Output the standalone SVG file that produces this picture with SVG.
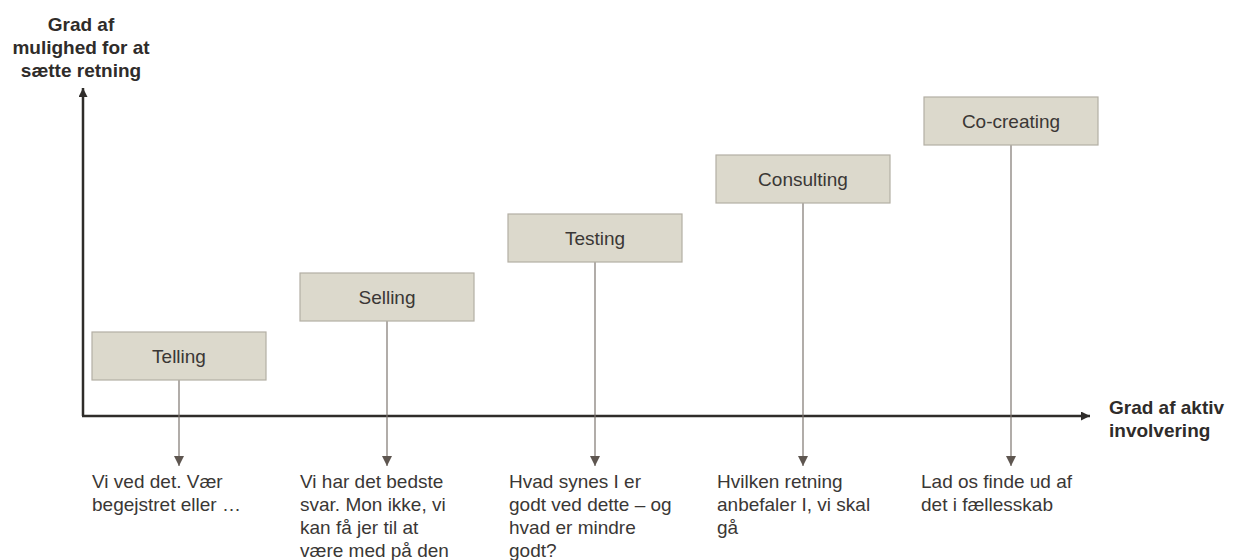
<svg xmlns="http://www.w3.org/2000/svg" width="1233" height="560" viewBox="0 0 1233 560">
<defs>
<style>
.box{fill:#dcd9cc;stroke:#b3afa4;stroke-width:1.2}
.lbl{font-family:"Liberation Sans",Arial,sans-serif;font-size:19px;fill:#3a3735;text-anchor:middle}
.body{font-family:"Liberation Sans",Arial,sans-serif;font-size:19px;fill:#3a3735}
.ax{font-family:"Liberation Sans",Arial,sans-serif;font-size:19px;font-weight:bold;fill:#2f2c2a}
.axis{stroke:#2f2c2a;stroke-width:2.5;fill:none}
.conn{stroke:#7d7670;stroke-width:1.2;fill:none}
</style>
<marker id="ah" viewBox="0 0 10 10" refX="10" refY="5" markerWidth="10" markerHeight="10" markerUnits="userSpaceOnUse" orient="auto">
<path d="M0,0 L10,5 L0,10 z" fill="#5e5650"/>
</marker>
<marker id="axh" viewBox="0 0 10 10" refX="10" refY="5" markerWidth="10" markerHeight="9" markerUnits="userSpaceOnUse" orient="auto">
<path d="M0,0 L10,5 L0,10 z" fill="#2f2c2a"/>
</marker>
</defs>
<rect width="1233" height="560" fill="#ffffff"/>

<g id="axes">
<path class="axis" d="M83,416 L83,88" marker-end="url(#axh)"/>
<path class="axis" d="M82,416 L1090,416" marker-end="url(#axh)"/>
<text class="ax" text-anchor="middle"><tspan x="81" y="31">Grad af</tspan><tspan x="81" y="54">mulighed for at</tspan><tspan x="81" y="77">sætte retning</tspan></text>
<text class="ax"><tspan x="1109" y="414">Grad af aktiv</tspan><tspan x="1109" y="437">involvering</tspan></text>
</g>

<g id="connectors">
<path class="conn" d="M179,380 L179,466" marker-end="url(#ah)"/>
<path class="conn" d="M387,321 L387,466" marker-end="url(#ah)"/>
<path class="conn" d="M595,262 L595,466" marker-end="url(#ah)"/>
<path class="conn" d="M803,203 L803,466" marker-end="url(#ah)"/>
<path class="conn" d="M1011,145 L1011,466" marker-end="url(#ah)"/>
</g>

<g id="telling">
<rect class="box" x="92" y="332" width="174" height="48"/>
<text class="lbl" x="179" y="363">Telling</text>
<text class="body"><tspan x="92" y="488">Vi ved det. Vær</tspan><tspan x="92" y="511">begejstret eller …</tspan></text>
</g>

<g id="selling">
<rect class="box" x="300" y="273" width="174" height="48"/>
<text class="lbl" x="387" y="304">Selling</text>
<text class="body"><tspan x="300" y="488">Vi har det bedste</tspan><tspan x="300" y="511">svar. Mon ikke, vi</tspan><tspan x="300" y="534">kan få  jer til at</tspan><tspan x="300" y="557">være med på den</tspan></text>
</g>

<g id="testing">
<rect class="box" x="508" y="214" width="174" height="48"/>
<text class="lbl" x="595" y="245">Testing</text>
<text class="body"><tspan x="509" y="488">Hvad synes I er</tspan><tspan x="509" y="511">godt ved dette – og</tspan><tspan x="509" y="534">hvad er mindre</tspan><tspan x="509" y="557">godt?</tspan></text>
</g>

<g id="consulting">
<rect class="box" x="716" y="155" width="174" height="48"/>
<text class="lbl" x="803" y="186">Consulting</text>
<text class="body"><tspan x="717" y="488">Hvilken retning</tspan><tspan x="717" y="511">anbefaler I, vi skal</tspan><tspan x="717" y="534">gå</tspan></text>
</g>

<g id="cocreating">
<rect class="box" x="924" y="97" width="174" height="48"/>
<text class="lbl" x="1011" y="128">Co-creating</text>
<text class="body"><tspan x="921" y="488">Lad os finde ud af</tspan><tspan x="921" y="511">det  i fællesskab</tspan></text>
</g>
</svg>
